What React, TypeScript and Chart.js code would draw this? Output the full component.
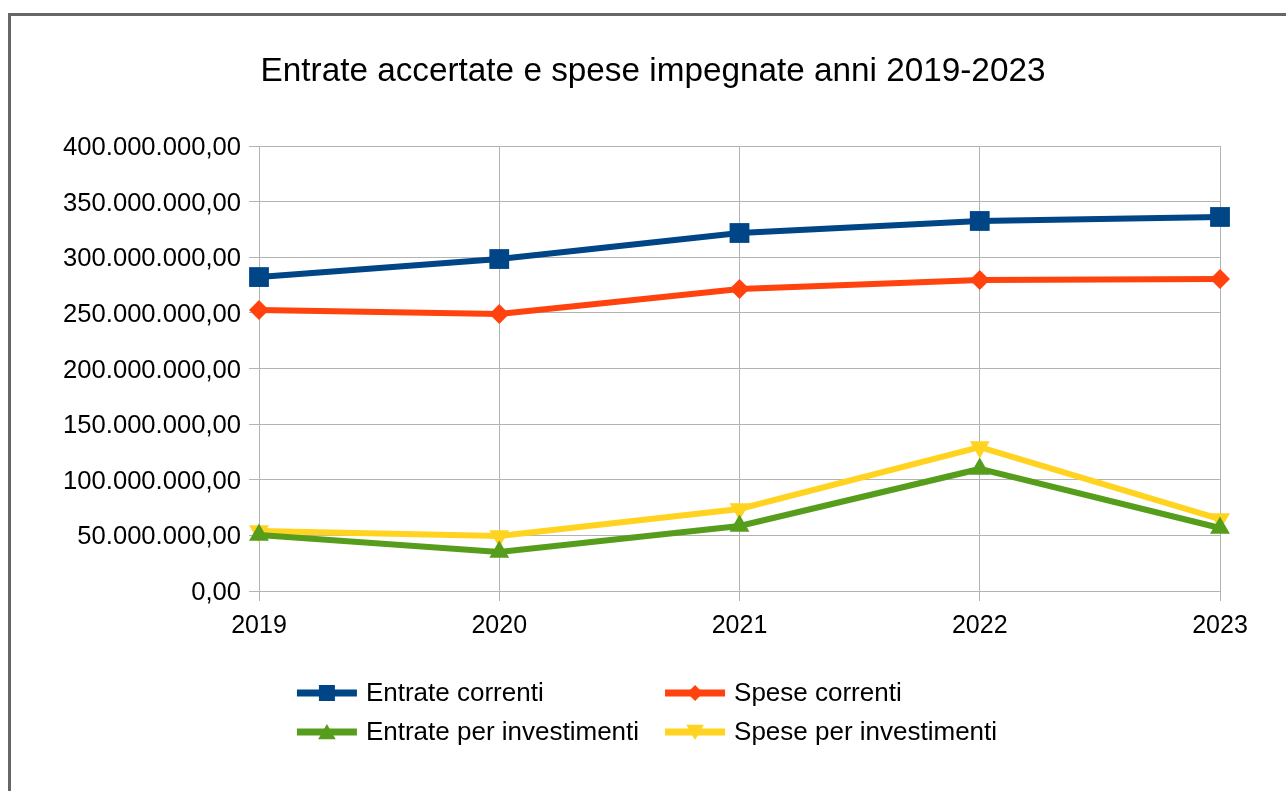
import React, { useEffect, useRef } from "react";
import { Chart, registerables } from "chart.js";

Chart.register(...registerables);

const years = ["2019", "2020", "2021", "2022", "2023"];
const entrateCorrenti = [282200000, 298400000, 321800000, 332600000, 336200000];
const speseCorrenti = [252600000, 249000000, 271500000, 279600000, 280400000];
const entrateInvestimenti = [50300000, 35000000, 58400000, 109700000, 56600000];
const speseInvestimenti = [53900000, 49400000, 73700000, 129400000, 64700000];
const seriesNames = ["Entrate correnti", "Spese correnti", "Entrate per investimenti", "Spese per investimenti"];
const seriesColors = ["#004586", "#ff420e", "#579d1c", "#ffd320"];
const titleText = "Entrate accertate e spese impegnate anni 2019-2023";

const FONT = '"Liberation Sans", Arial, sans-serif';

function fmtIt(v: number): string {
  const [i, d] = Math.abs(v).toFixed(2).split(".");
  const g = i.replace(/\B(?=(\d{3})+(?!\d))/g, ".");
  return (v < 0 ? "-" : "") + g + "," + d;
}

function drawMarker(ctx: CanvasRenderingContext2D, kind: string, x: number, y: number, s: number) {
  ctx.beginPath();
  if (kind === "rect") {
    ctx.rect(x - s / 2, y - s / 2, s, s);
  } else if (kind === "diamond") {
    ctx.moveTo(x, y - s / 2);
    ctx.lineTo(x + s / 2, y);
    ctx.lineTo(x, y + s / 2);
    ctx.lineTo(x - s / 2, y);
  } else if (kind === "up") {
    ctx.moveTo(x, y - s * 0.5);
    ctx.lineTo(x + s * 0.55, y + s * 0.45);
    ctx.lineTo(x - s * 0.55, y + s * 0.45);
  } else {
    ctx.moveTo(x, y + s * 0.5);
    ctx.lineTo(x + s * 0.55, y - s * 0.45);
    ctx.lineTo(x - s * 0.55, y - s * 0.45);
  }
  ctx.closePath();
  ctx.fill();
}

const legendMarkers = ["rect", "diamond", "up", "down"];

const customTitle = {
  id: "customTitle",
  afterDraw(chart: any) {
    const ctx: CanvasRenderingContext2D = chart.ctx;
    ctx.save();
    ctx.font = "33.3px " + FONT;
    ctx.fillStyle = "#000";
    ctx.textAlign = "center";
    ctx.textBaseline = "middle";
    ctx.fillText(titleText, (chart.width + 20) / 2, chart.chartArea.top - 74);
    ctx.restore();
  },
};

const customLegend = {
  id: "customLegend",
  afterDraw(chart: any) {
    const ctx: CanvasRenderingContext2D = chart.ctx;
    const ds = chart.data.datasets;
    ctx.save();
    ctx.font = "26px " + FONT;
    ctx.textBaseline = "middle";
    const lineLen = 60;
    const gap = 9;
    const colGap = 26;
    const w0 = Math.max(ctx.measureText(ds[0].label).width, ctx.measureText(ds[2].label).width);
    const w1 = Math.max(ctx.measureText(ds[1].label).width, ctx.measureText(ds[3].label).width);
    const total = lineLen + gap + w0 + colGap + lineLen + gap + w1;
    const startX = chart.width / 2 + 4 - total / 2;
    const colX = [startX, startX + lineLen + gap + w0 + colGap];
    const rowY = [chart.chartArea.bottom + 102, chart.chartArea.bottom + 141];
    for (let i = 0; i < ds.length; i++) {
      const col = i % 2;
      const row = Math.floor(i / 2);
      const x = colX[col];
      const y = rowY[row];
      ctx.strokeStyle = ds[i].borderColor;
      ctx.fillStyle = ds[i].borderColor;
      ctx.lineWidth = 7;
      ctx.beginPath();
      ctx.moveTo(x, y);
      ctx.lineTo(x + lineLen, y);
      ctx.stroke();
      drawMarker(ctx, legendMarkers[i], x + lineLen / 2, y, 16);
      ctx.fillStyle = "#000";
      ctx.textAlign = "left";
      ctx.fillText(ds[i].label, x + lineLen + gap, y + 1);
    }
    ctx.restore();
  },
};

export default function App() {
  const ref = useRef<HTMLCanvasElement | null>(null);
  useEffect(() => {
    document.body.style.overflow = "hidden";
    if (!ref.current) return;
    const seriesData = [entrateCorrenti, speseCorrenti, entrateInvestimenti, speseInvestimenti];
    const styles: any[] = ["rect", "rectRot", "triangle", "triangle"];
    const radii = [14, 10, 11.5, 11.5];
    const rotations = [0, 0, 0, 180];
    const chart = new Chart(ref.current, {
      type: "line",
      data: {
        labels: years,
        datasets: seriesNames.map((name, i) => ({
          label: name,
          data: seriesData[i],
          borderColor: seriesColors[i],
          backgroundColor: seriesColors[i],
          pointBackgroundColor: seriesColors[i],
          pointBorderColor: seriesColors[i],
          pointBorderWidth: 0,
          borderWidth: 6,
          pointStyle: styles[i],
          pointRadius: radii[i],
          pointRotation: rotations[i],
          tension: 0,
          fill: false,
        })),
      },
      options: {
        animation: false,
        responsive: false,
        layout: { padding: { left: 20, right: 66, top: 146, bottom: 150 } },
        plugins: {
          legend: { display: false },
          tooltip: { enabled: false },
          title: { display: false },
        },
        scales: {
          x: {
            offset: false,
            afterFit: (s: any) => {
              s.height = 50;
            },
            grid: { color: "#b3b3b3", lineWidth: 1, tickLength: 10, drawTicks: true },
            border: { color: "#b3b3b3" },
            ticks: { color: "#000", font: { family: FONT, size: 25 }, padding: 10, maxRotation: 0 },
          },
          y: {
            min: 0,
            max: 400000000,
            afterFit: (s: any) => {
              s.width = 239;
            },
            grid: { color: "#b3b3b3", lineWidth: 1, tickLength: 10, drawTicks: true },
            border: { color: "#b3b3b3" },
            ticks: {
              stepSize: 50000000,
              color: "#000",
              font: { family: FONT, size: 25.6 },
              padding: 8,
              labelOffset: 2,
              callback: (v: any) => fmtIt(Number(v)),
            },
          },
        },
      },
      plugins: [customTitle, customLegend],
    });
    return () => chart.destroy();
  }, []);
  return (
    <>
      <div
        style={{
          position: "fixed",
          left: 8,
          top: 13,
          width: 1400,
          height: 900,
          border: "3px solid #666",
          boxSizing: "border-box",
          background: "#fff",
        }}
      />
      <canvas
        ref={ref}
        width={1286}
        height={791}
        style={{ position: "fixed", left: 0, top: 0, width: 1286, height: 791 }}
      />
    </>
  );
}
